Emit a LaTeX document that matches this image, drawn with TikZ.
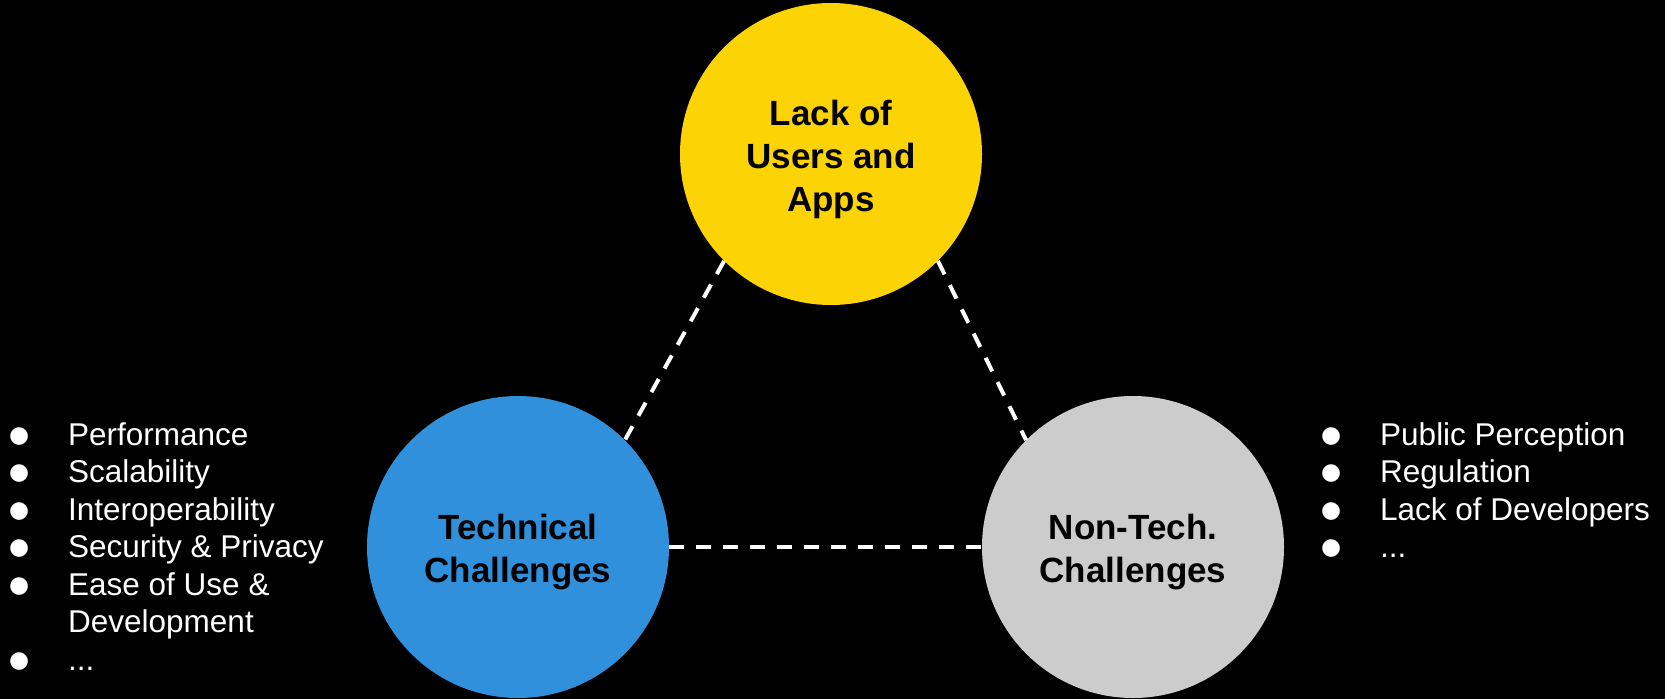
\documentclass[tikz,border=0pt]{standalone}
\usepackage{fontspec}
\setmainfont{Liberation Sans}
\newfontfamily\symfont{DejaVu Sans}
\definecolor{cyellow}{HTML}{FCD305}
\definecolor{cblue}{HTML}{3190DC}
\definecolor{cgray}{HTML}{CCCCCC}
\newcommand\upstrut{\rule{0pt}{36pt}}
\newcommand\bul{\makebox[68pt][l]{\makebox[38pt][c]{\raisebox{3pt}{\symfont\fontsize{23}{23}\selectfont ●}}}}
\begin{document}
\begin{tikzpicture}[x=1pt,y=-1pt]
\tikzset{
  bubble/.style={circle, minimum size=302pt, inner sep=0pt, align=center, text=black,
    font=\bfseries\fontsize{35}{43}\selectfont},
  link/.style={draw=white, line width=4pt, dash pattern=on 15pt off 12pt},
  itemlist/.style={text=white, inner sep=0pt, anchor=base west,
    font=\fontsize{31.5}{37.5}\selectfont}
}
\fill[black] (0,0) rectangle (1665,699);
\useasboundingbox (0,0) rectangle (1665,699);

\node[bubble, fill=cyellow] (users) at (831,154) {\upstrut Lack of\\Users and\\Apps};
\node[bubble, fill=cblue] (tech) at (518,547) {\upstrut Technical\\Challenges};
\node[bubble, fill=cgray] (nontech) at (1133,547) {\upstrut Non-Tech.\\Challenges};

\draw[link] (users.south west) -- (tech.north east);
\draw[link] (users.south east) -- (nontech.north west);
\draw[link] (tech.east) -- (nontech.west);

\node[itemlist] (techlist) at (0,445) {%
\begin{tabular}[t]{@{}l@{}l@{}}
\bul & Performance\\
\bul & Scalability\\
\bul & Interoperability\\
\bul & Security \& Privacy\\
\bul & Ease of Use \&\\
     & Development\\
\bul & ...
\end{tabular}};

\node[itemlist] (nontechlist) at (1312,445) {%
\begin{tabular}[t]{@{}l@{}l@{}}
\bul & Public Perception\\
\bul & Regulation\\
\bul & Lack of Developers\\
\bul & ...
\end{tabular}};
\end{tikzpicture}
\end{document}
